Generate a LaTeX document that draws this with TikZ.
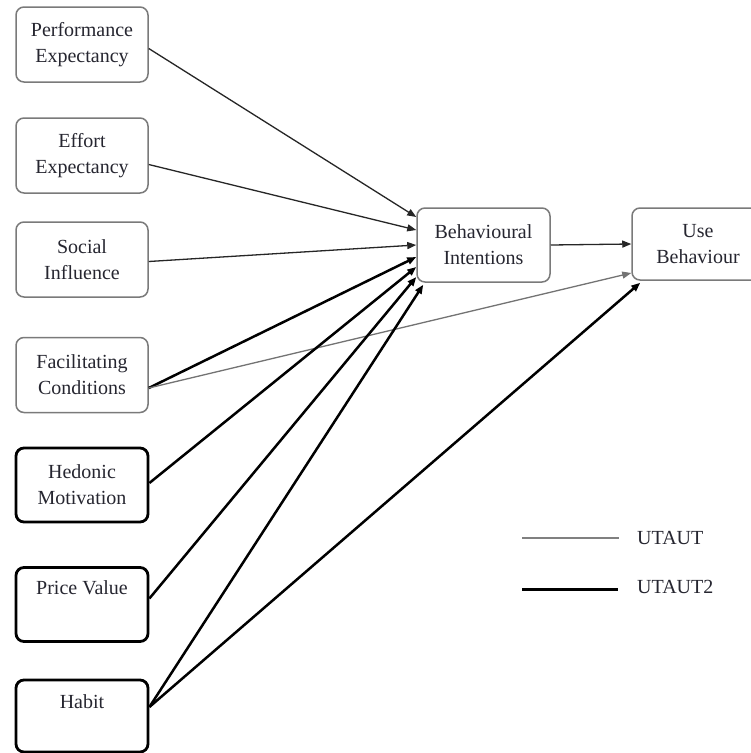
\documentclass[tikz,border=0pt]{standalone}
\usepackage{fontspec}
\setmainfont{Liberation Serif}
\usetikzlibrary{arrows.meta}
\definecolor{boxgray}{HTML}{7A7A7A}
\definecolor{txt}{HTML}{262630}
\begin{document}
\begin{tikzpicture}[x=1pt,y=-1pt,
  every node/.style={text=txt},
  lbl/.style={font=\fontsize{20}{26}\selectfont, align=center, inner sep=0pt},
  thinbox/.style={lbl, draw=boxgray, line width=1.5pt, rounded corners=8pt, minimum width=132pt, minimum height=75pt},
  thickbox/.style={lbl, draw=black, line width=2.8pt, rounded corners=8pt, minimum width=132pt, minimum height=74pt},
  tip/.style={-{Triangle[length=9pt,width=7pt]}},
  thinline/.style={tip, draw=black!85, line width=1.3pt},
  greyline/.style={tip, draw=black!55, line width=1.3pt},
  thickline/.style={tip, draw=black, line width=2.5pt},
]
\useasboundingbox[fill=white] (0,0) rectangle (751,753);

\node[thinbox] (pe) at (82,44.5) {Performance\\Expectancy};
\node[thinbox] (ee) at (82,155.5) {Effort\\Expectancy};
\node[thinbox] (si) at (82,259.5) {Social\\Influence};
\node[thinbox] (fc) at (82,375) {Facilitating\\Conditions};
\node[thickbox] (hm) at (82,485) {Hedonic\\Motivation};
\node[thickbox] (pv) at (82,604.5) {Price Value\\\strut};
\node[thickbox, minimum height=72pt] (hb) at (82,716) {Habit\\[-4pt]\strut};

\node[thinbox, minimum width=133pt, minimum height=74pt] (bi) at (483.5,245) {Behavioural\\Intentions};
\node[thinbox, minimum width=132pt, minimum height=72pt] (ub) at (698,244) {Use\\Behaviour};

% connectors to Behavioural Intentions
\draw[thinline] ([yshift=-4pt]pe.east) -- ([yshift=28pt]bi.west);
\draw[thinline] ([yshift=-9pt]ee.east) -- ([yshift=15pt]bi.west);
\draw[thinline] ([yshift=-2pt]si.east) -- (bi.west);
\draw[thickline] ([yshift=-13pt]fc.east) -- ([yshift=-12pt]bi.west);
\draw[greyline] ([yshift=-13pt]fc.east) -- ([yshift=-29pt]ub.west);
\draw[thickline] ([yshift=2pt]hm.east) -- ([yshift=-22pt]bi.west);
\draw[thickline] ([yshift=6pt]pv.east) -- ([yshift=-32pt]bi.west);
\draw[thickline] ([yshift=9pt]hb.east) -- ([xshift=7pt,yshift=-2pt]bi.south west);
\draw[thickline] ([yshift=9pt]hb.east) -- ([xshift=9pt,yshift=-2pt]ub.south west);
\draw[thinline] (bi.east) -- (ub.west);

% legend
\coordinate (l1a) at (522,538);
\coordinate (l1b) at (619,538);
\coordinate (l2a) at (522,589);
\coordinate (l2b) at (618,589);
\draw[black!50, line width=2.4pt] (l1a) -- (l1b);
\draw[black, line width=3pt] (l2a) -- (l2b);
\node[lbl, anchor=west] (t1) at (637,538) {UTAUT};
\node[lbl, anchor=west] (t2) at (637,587) {UTAUT2};
\end{tikzpicture}
\end{document}
